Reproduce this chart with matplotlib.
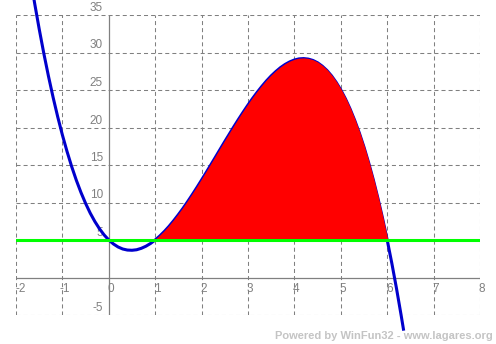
import matplotlib
matplotlib.use('Agg')
import matplotlib.pyplot as plt
import numpy as np

# points
x_vals = [-1.7, -1.6, -1.5, -1.4, -1.3, -1.2, -1.1, -1.0, -0.9, -0.8, -0.7, -0.6,
          -0.5, -0.4, -0.3, -0.2, -0.1, 0.0, 0.1, 0.2, 0.3, 0.4, 0.5, 0.6,
          0.7, 0.8, 0.9, 1.0, 1.1, 1.2, 1.3, 1.4, 1.5, 1.6, 1.7, 1.8,
          1.9, 2.0, 2.1, 2.2, 2.3, 2.4, 2.5, 2.6, 2.7, 2.8, 2.9, 3.0,
          3.1, 3.2, 3.3, 3.4, 3.5, 3.6, 3.7, 3.8, 3.9, 4.0, 4.1, 4.2,
          4.3, 4.4, 4.5, 4.6, 4.7, 4.8, 4.9, 5.0, 5.1, 5.2, 5.3, 5.4,
          5.5, 5.6, 5.7, 5.8, 5.9, 6.0, 6.1, 6.2, 6.3, 6.35]
y_vals = [40.34, 36.62, 33.13, 29.86, 26.83, 24.01, 21.40, 19.0, 16.80, 14.79, 12.97, 11.34,
          9.88, 8.58, 7.46, 6.49, 5.67, 5.0, 4.47, 4.07, 3.80, 3.66, 3.63, 3.70,
          3.89, 4.17, 4.54, 5.0, 5.54, 6.15, 6.83, 7.58, 8.38, 9.22, 10.12, 11.05,
          12.01, 13.0, 14.01, 15.03, 16.06, 17.10, 18.13, 19.14, 20.15, 21.13, 22.08, 23.0,
          23.88, 24.71, 25.49, 26.22, 26.88, 27.46, 27.98, 28.41, 28.75, 29.0, 29.15, 29.19,
          29.12, 28.94, 28.63, 28.18, 27.61, 26.89, 26.02, 25.0, 23.82, 22.47, 20.95, 19.26,
          17.38, 15.30, 13.04, 10.57, 7.89, 5.0, 1.89, -1.45, -5.02, -6.89]

line_y = 5
fill_from = 1
fill_to = 6

x_ticks = [-2, -1, 0, 1, 2, 3, 4, 5, 6, 7, 8]
y_ticks = [35, 30, 25, 20, 15, 10, 5, -5]

grey = '#808080'
plt.rcParams['lines.scale_dashes'] = False
plt.rcParams['font.family'] = ['Liberation Sans', 'DejaVu Sans']

fig = plt.figure(figsize=(4.96, 3.44), dpi=100)
W, H = 496, 344
ax = fig.add_axes([16 / W, (H - 315) / H, (480 - 16) / W, 300 / H])
ax.set_xlim(-2, 8)
ax.set_ylim(-5, 35)
ax.axis('off')

dash = (0, (2.9, 2.2))
for xv in range(-2, 9):
    if xv != 0:
        ax.axvline(xv, color=grey, lw=0.75, ls=dash, zorder=1)
for yv in range(-5, 40, 5):
    if yv != 0:
        ax.axhline(yv, color=grey, lw=0.75, ls=dash, zorder=1)
ax.axvline(0, color=grey, lw=0.9, zorder=1)
ax.axhline(0, color=grey, lw=0.9, zorder=1)

for t in x_ticks:
    dx = 0 if t == -2 else 2
    ha = 'left' if t == -2 else 'center'
    ax.annotate(str(t), (t, 0), xytext=(dx, -14), textcoords='offset pixels',
                ha=ha, va='baseline', fontsize=8.5, color=grey, zorder=2)
for t in y_ticks:
    ax.annotate(str(t), (0, t), xytext=(-6, 4), textcoords='offset pixels',
                ha='right', va='baseline', fontsize=8.5, color=grey, zorder=2)

x = np.array(x_vals)
y = np.array(y_vals)
ax.plot(x, y, color='#0000cc', lw=2.2, clip_on=False, zorder=3,
        solid_joinstyle='round')

# red area sits on top of the curve, leaving only a thin blue rim
m = (x >= fill_from) & (x <= fill_to)
ax.fill_between(x[m], y[m], line_y, facecolor='#ff0000', edgecolor='#ff0000',
                lw=1.0, zorder=4)

ax.axhline(line_y, color='#00ff00', lw=2.2, zorder=5)

fig.text(493 / W, (H - 339) / H, 'Powered by WinFun32 - www.lagares.org',
         ha='right', va='baseline', fontsize=8, fontweight='bold', color='#c4c4c4')

fig.savefig('out.png', dpi=100)
